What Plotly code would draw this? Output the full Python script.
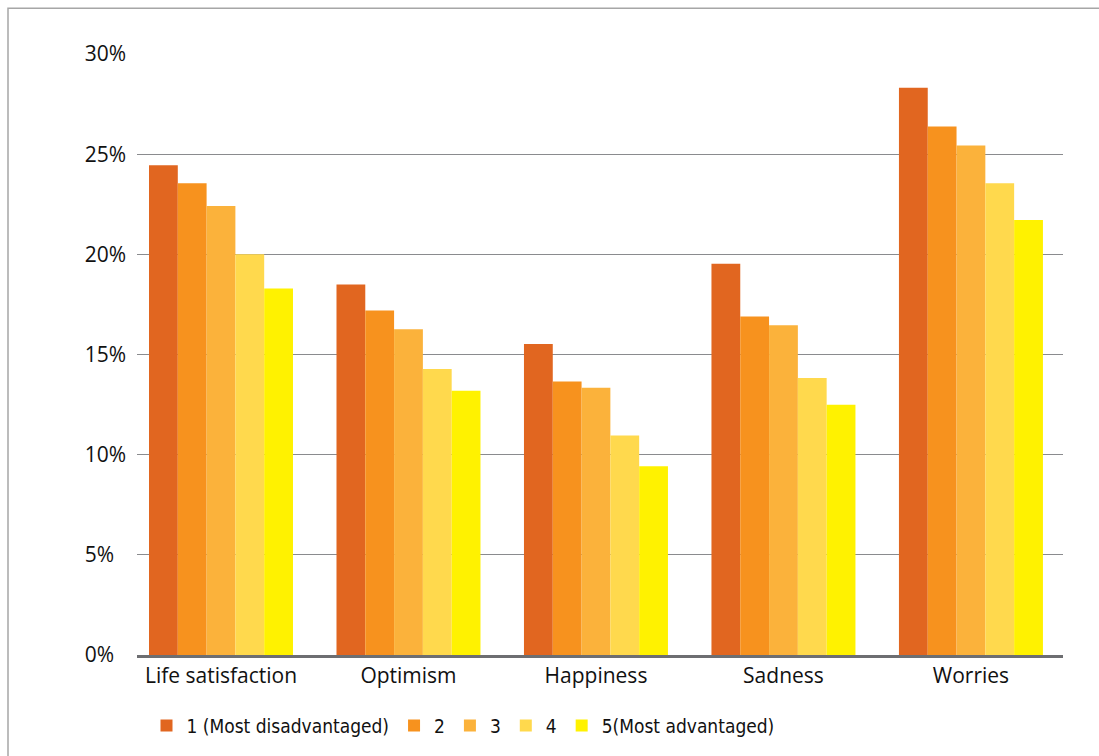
import plotly.graph_objects as go

categories = ["Life satisfaction", "Optimism", "Happiness", "Sadness", "Worries"]
series_names = ["1 (Most disadvantaged)", "2", "3", "4", "5(Most advantaged)"]
q1 = [24.45, 18.5, 15.52, 19.53, 28.31]
q2 = [23.55, 17.2, 13.65, 16.9, 26.38]
q3 = [22.41, 16.26, 13.34, 16.46, 25.43]
q4 = [20.0, 14.28, 10.96, 13.83, 23.55]
q5 = [18.3, 13.19, 9.42, 12.49, 21.72]
series_values = [q1, q2, q3, q4, q5]
colors = ["#E16620", "#F7921E", "#FBB23B", "#FFD94D", "#FFF200"]
tick_vals = [0, 5, 10, 15, 20, 25, 30]
tick_text = ["0%\u2007", "5%\u2007", "10%", "15%", "20%", "25%", "30%"]

fig = go.Figure()
for name, vals, col in zip(series_names, series_values, colors):
    fig.add_trace(go.Bar(x=categories, y=vals, name=name,
                         marker=dict(color=col, line=dict(width=0))))

L, R, T, B = 137, 36, 54, 97
W, H = 1099, 756
pw = W - L - R
ph = H - T - B

fig.update_layout(
    width=W, height=H,
    margin=dict(l=L, r=R, t=T, b=B, pad=0),
    paper_bgcolor="white", plot_bgcolor="white",
    barmode="group", bargap=0.232, bargroupgap=0,
    font=dict(family="Open Sans, sans-serif", size=21, color="#111111"),
    xaxis=dict(range=[-0.448, 4.491], showgrid=False, showline=True,
               linecolor="#6d6e71", linewidth=2.5, ticks="",
               tickfont=dict(size=21), fixedrange=True),
    yaxis=dict(range=[0, 30], tickvals=tick_vals, ticktext=tick_text,
               showgrid=True, gridcolor="#8a8b8e", gridwidth=1.2,
               zeroline=False, showline=False, ticks="",
               ticklabelstandoff=10, tickfont=dict(size=21)),
    legend=dict(orientation="h", xanchor="center", yanchor="middle",
                x=(463 - L) / pw, y=(659 - 730) / ph,
                font=dict(family="DejaVu Sans Condensed, Liberation Sans Narrow, Roboto, sans-serif",
                          size=19, color="#111111"),
                itemwidth=30, traceorder="normal"),
    showlegend=True,
)

# outer chart border (left and top edges visible)
fig.add_shape(type="rect", xref="paper", yref="paper",
              x0=(8 - L) / pw, x1=(1200 - L) / pw,
              y0=(659 - 900) / ph, y1=(659 - 8) / ph,
              line=dict(color="#a6a6a6", width=1.5), fillcolor="rgba(0,0,0,0)",
              layer="below")

fig.write_html("out.html")
